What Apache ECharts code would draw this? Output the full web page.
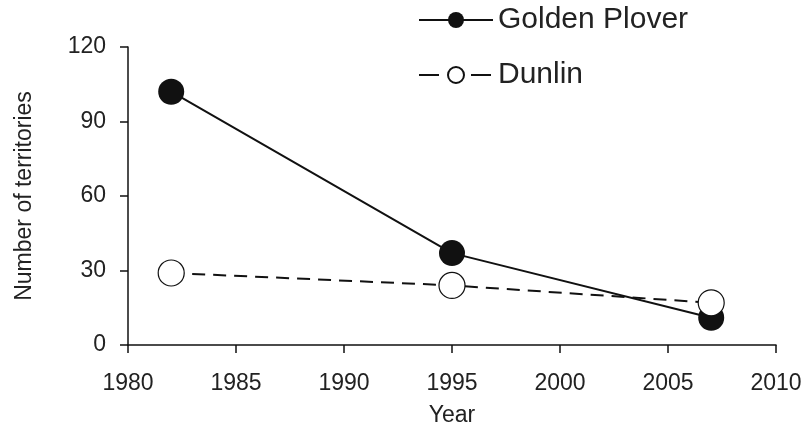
<!DOCTYPE html>
<html>
<head>
<meta charset="utf-8">
<script src="https://cdn.jsdelivr.net/npm/echarts@6/dist/echarts.min.js"></script>
<style>
html,body{margin:0;padding:0;background:#fff;}
#chart{width:809px;height:434px;}
</style>
</head>
<body>
<div id="chart"></div>
<script>
var years = [1982, 1995, 2007];
var goldenPlover = [102, 37, 11];
var dunlin = [29, 24, 17];
var xTicks = {min: 1980, max: 2010, interval: 5};
var yTicks = {min: 0, max: 120, interval: 30};

function pairs(xs, ys) { return xs.map(function (x, i) { return [x, ys[i]]; }); }

var FONT = '"Liberation Sans", Arial, sans-serif';
var ink = '#111';
var txt = '#222';

var chart = echarts.init(document.getElementById('chart'), null, {renderer: 'canvas'});
chart.setOption({
  animation: false,
  backgroundColor: '#fff',
  grid: {left: 128, right: 33, top: 47, bottom: 89, containLabel: false},
  legend: {
    orient: 'vertical',
    left: 413,
    top: 0,
    itemWidth: 74,
    itemHeight: 20,
    itemGap: 25,
    textStyle: {fontFamily: FONT, fontSize: 30, color: txt},
    data: [
      {name: 'Golden Plover'},
      {name: 'Dunlin', lineStyle: {type: [20, 32]}}
    ]
  },
  xAxis: {
    type: 'value',
    min: xTicks.min, max: xTicks.max, interval: xTicks.interval,
    name: 'Year',
    nameLocation: 'middle',
    nameGap: 59,
    nameTextStyle: {fontFamily: FONT, fontSize: 23, color: txt},
    axisLine: {show: true, onZero: false, lineStyle: {color: ink, width: 1.5}},
    axisTick: {show: true, inside: false, length: 8, lineStyle: {color: ink, width: 1.5}},
    axisLabel: {fontFamily: FONT, fontSize: 23, color: txt, margin: 27, formatter: function (v) { return String(v); }},
    splitLine: {show: false}
  },
  yAxis: {
    type: 'value',
    min: yTicks.min, max: yTicks.max, interval: yTicks.interval,
    name: 'Number of territories',
    nameLocation: 'middle',
    nameGap: 92,
    nameRotate: 90,
    nameTextStyle: {fontFamily: FONT, fontSize: 23, color: txt},
    axisLine: {show: true, lineStyle: {color: ink, width: 1.5}},
    axisTick: {show: true, inside: false, length: 8, lineStyle: {color: ink, width: 1.5}},
    axisLabel: {fontFamily: FONT, fontSize: 23, color: txt, margin: 22},
    splitLine: {show: false}
  },
  series: [
    {
      name: 'Golden Plover',
      type: 'line',
      data: pairs(years, goldenPlover),
      symbol: 'circle',
      symbolSize: 26,
      lineStyle: {color: ink, width: 2, type: 'solid'},
      itemStyle: {color: ink, borderColor: ink, borderWidth: 0},
      z: 2
    },
    {
      name: 'Dunlin',
      type: 'line',
      data: pairs(years, dunlin),
      symbol: 'circle',
      symbolSize: 26,
      lineStyle: {color: ink, width: 2, type: [13, 8]},
      itemStyle: {color: '#fff', borderColor: ink, borderWidth: 1.2},
      z: 3
    }
  ]
});
</script>
</body>
</html>
